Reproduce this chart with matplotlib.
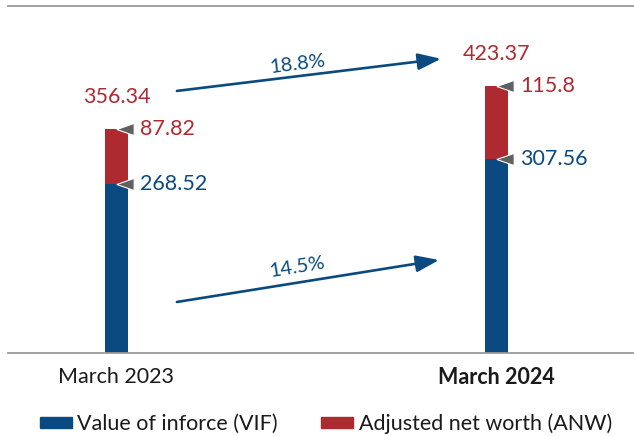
import numpy as np
import matplotlib
matplotlib.use("Agg")
import matplotlib.pyplot as plt
from matplotlib.patches import Patch

plt.rcParams["font.family"] = ["Lato", "DejaVu Sans"]

# Embedded value by component (Rs. crore)
periods = ["March 2023", "March 2024"]
vif = [268.52, 307.56]
anw = [87.82, 115.8]
totals = [356.34, 423.37]
growth_labels = ["18.8%", "14.5%"]

BLUE = "#0a4a80"
RED = "#ad2a30"
GREY_MARK = "#606060"
LINE_GREY = "#9a9a9a"

fig = plt.figure(figsize=(6.34, 4.36), dpi=100)
ax = fig.add_axes([8 / 634, 83 / 436, 626 / 634, 346.5 / 436])

x = np.arange(len(periods))
width = 0.0605
ax.bar(x, vif, width, color=BLUE, zorder=2)
ax.bar(x, anw, width, bottom=vif, color=RED, zorder=2)

# small pointer triangles at the top of each segment
tri = [(-1, 0), (1, 0.7), (1, -0.7), (-1, 0)]
mark_dx = 0.0224
for xi, v, t in zip(x, vif, totals):
    for yv in (v, t):
        ax.plot(xi + mark_dx, yv, marker=tri, ms=12.5, color=GREY_MARK,
                mec="white", mew=0.8, ls="none", zorder=3)

label_dx = 0.062
for xi, v, a, t in zip(x, vif, anw, totals):
    ax.text(xi + label_dx, v, f"{v:g}", color=BLUE, fontsize=15.5,
            ha="left", va="center")
    ax.text(xi + label_dx, t, f"{a:g}", color=RED, fontsize=15.5,
            ha="left", va="center")
    ax.annotate(f"{t:.2f}", xy=(xi, t), xytext=(0, 23), textcoords="offset points",
                color=RED, fontsize=15.5, ha="center", va="center")

# growth arrows: total (top) and VIF (bottom)
arrows = [((0.159, 416), (0.854, 467)), ((0.159, 81), (0.849, 147.6))]
label_pos = [(0.475, 458.7, 6.9), (0.475, 136.5, 9.1)]
for (start, end), (lx, ly, rot), txt in zip(arrows, label_pos, growth_labels):
    ax.annotate("", xy=end, xytext=start,
                arrowprops=dict(arrowstyle="-|>,head_length=1.0,head_width=0.36",
                                color=BLUE, lw=1.9, mutation_scale=14,
                                shrinkA=0, shrinkB=0))
    ax.text(lx, ly, txt, color=BLUE, fontsize=14.5, rotation=rot,
            rotation_mode="anchor", ha="center", va="center")

ax.set_xlim(-0.2855, 1.3618)
ax.set_ylim(0, 550)
ax.set_xticks(x)
ax.set_xticklabels(periods, fontsize=15.5, color="#1a1a1a")
ax.get_xticklabels()[1].set_fontweight("bold")
ax.tick_params(axis="x", length=0, pad=10)
ax.set_yticks([])
for side in ("left", "right"):
    ax.spines[side].set_visible(False)
for side in ("top", "bottom"):
    ax.spines[side].set_color(LINE_GREY)
    ax.spines[side].set_linewidth(1.3)

handles = [Patch(color=BLUE, label="Value of inforce (VIF)"),
           Patch(color=RED, label="Adjusted net worth (ANW)")]
fig.legend(handles=handles, loc="center", bbox_to_anchor=(0.514, 0.0275),
           ncol=2, frameon=False, fontsize=15.5, handlelength=1.5,
           handleheight=0.46, handletextpad=0.24, columnspacing=2.0,
           borderpad=0, borderaxespad=0, labelcolor="#1a1a1a")

fig.savefig("out.png", dpi=100)
